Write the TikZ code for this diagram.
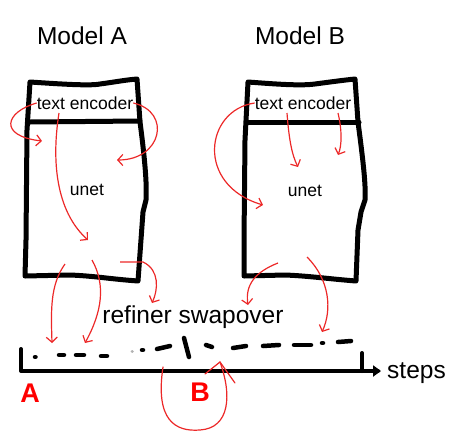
\documentclass[tikz,border=0pt]{standalone}
\usepackage{fontspec}
\setmainfont{Liberation Sans}
\usetikzlibrary{arrows.meta}
\definecolor{pen}{RGB}{236,40,40}
\tikzset{
  box/.style={line width=5pt, line join=round, line cap=round, black},
  redarrow/.style={pen, line width=1.2pt, -{Straight Barb[length=5pt,width=11pt,line width=1.2pt]}},
  redline/.style={pen, line width=1.2pt, line cap=round},
  dashmark/.style={line width=4.5pt, line cap=round, black},
  label/.style={font=\fontsize{17.5}{17.5}\selectfont, inner sep=0pt},
  big/.style={font=\fontsize{24.5}{24.5}\selectfont, inner sep=0pt},
  letter/.style={font=\fontsize{27}{27}\selectfont\bfseries, text=red, inner sep=0pt},
}
\begin{document}
\begin{tikzpicture}[x=1pt,y=-1pt]
\useasboundingbox (0,0) rectangle (465,442);

% titles
\node[big] (titleA) at (82,36) {Model A};
\node[big] (titleB) at (300,36) {Model B};

% box A
\draw[box] (30,82) .. controls (60,84) and (90,86) .. (100,84) .. controls (115,82) and (125,80) .. (137,79)
  -- (140,122) .. controls (145,160) and (147,185) .. (146,200) -- (143,212) -- (138,281)
  .. controls (110,279) and (95,276) .. (70,275) -- (25,276) -- (26,240) -- (27,130) -- cycle;
\draw[box] (30,122) -- (140,121);
% box B
\draw[box] (248,82) .. controls (275,84) and (300,86) .. (315,84) .. controls (330,82) and (345,80) .. (355,79)
  -- (358,122) .. controls (363,160) and (366,185) .. (365,200) -- (361,212) -- (358,230) -- (356,281)
  .. controls (330,279) and (310,276) .. (285,275) -- (244,276) -- (244,240) -- (245,140) -- cycle;
\draw[box] (248,122) -- (359,122);

\node[label] (teA) at (85,103) {text encoder};
\node[label] (unetA) at (87,190) {unet};
\node[label] (teB) at (303,103) {text encoder};
\node[label] (unetB) at (305,191) {unet};

% timeline
\node[big] (swap) at (193,317) {refiner swapover};
\coordinate (origin) at (21,371);
\coordinate (tickL) at (21,349);
\coordinate (tickR) at (362,353);
\coordinate (tickRb) at (362,371);
\coordinate (axisend) at (378,371);
\draw[line width=4pt, line cap=round, line join=round] (tickL) -- (origin) -- (axisend);
\draw[line width=4pt, -{Triangle[length=8pt,width=11pt]}] (370,371) -- (381,371);
\draw[line width=4pt, line cap=round] (tickR) -- (tickRb);
\node[big, anchor=west] (steps) at (387,373) {steps};

% dashes of the schedule
\draw[dashmark] (35,357) -- (35.5,357);
\draw[dashmark] (59,355) -- (64,355);
\draw[dashmark] (76,355) -- (84,355);
\draw[dashmark] (101,356) -- (107,356);
\draw[dashmark, gray!60, line width=3pt] (132,351) -- (132.4,351);
\draw[dashmark] (142,350) -- (143,350);
\draw[dashmark] (157,349) -- (170,346);
\draw[dashmark] (184,338) -- (189,357);
\draw[dashmark] (206,345) -- (212,347);
\draw[dashmark] (233,348) -- (246,346);
\draw[dashmark] (263,346) -- (279,345);
\draw[dashmark] (294,345) -- (311,345);
\draw[dashmark] (322,343) -- (323,343);
\draw[dashmark] (338,342) -- (351,341);

\node[letter] (labA) at (30,393) {A};
\node[letter] (labB) at (200,392) {B};

% red arrows, model A
\draw[redarrow] (teA.west) .. controls (5,112) and (-2,136) .. (42,141);
\draw[redarrow] (59,113) .. controls (50,170) and (60,215) .. (88,240);
\draw[redarrow] (teA.east) .. controls (172,112) and (162,160) .. (117,160);
\draw[redarrow] (65,264) .. controls (50,285) and (51,310) .. (52,343);
\draw[redarrow] (92,260) .. controls (106,285) and (102,312) .. (85,343);
\draw[redarrow] (120,262) -- (143,262) .. controls (160,270) and (158,290) .. (152,303);
% red arrows, model B
\draw[redarrow] (teB.west) .. controls (205,110) and (195,185) .. (263,205);
\draw[redarrow] (287,113) .. controls (289,140) and (292,155) .. (298,167);
\draw[redarrow] (338,113) .. controls (342,130) and (342,145) .. (338,155);
\draw[redarrow] (278,263) .. controls (255,272) and (245,285) .. (248,305);
\draw[redarrow] (307,257) .. controls (330,280) and (332,310) .. (322,332);
% loop around B
\coordinate (loopEnd) at (220,362);
\draw[redline] (163,367) .. controls (155,420) and (175,432) .. (200,430) .. controls (230,428) and (232,395) .. (loopEnd);
\draw[redline] (205,374) -- (loopEnd) -- (235,383);
\end{tikzpicture}
\end{document}
